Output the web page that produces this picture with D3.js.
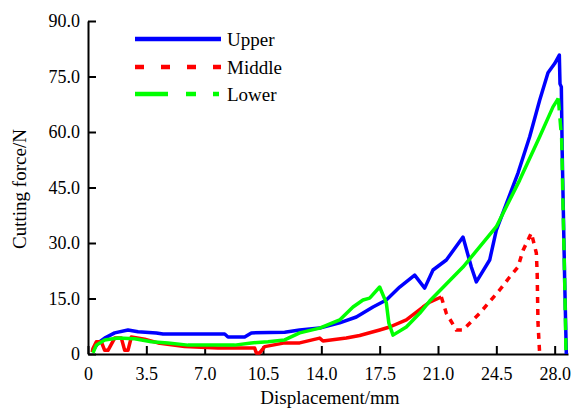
<!DOCTYPE html>
<html><head><meta charset="utf-8">
<script src="https://cdn.jsdelivr.net/npm/d3@7/dist/d3.min.js"></script>
<style>
body{margin:0;background:#fff;}
text{font-family:"Liberation Serif","Times New Roman",serif;fill:#000;}
</style></head>
<body><svg id="c" width="574" height="408"></svg>
<script>
const seriesNames = ["Upper","Middle","Lower"];
const xTicks = [0,3.5,7.0,10.5,14.0,17.5,21.0,24.5,28.0];
const yTicks = [0,15,30,45,60,75,90];

const upperX = [0.3,0.6,1.0,1.6,2.4,3.0,4.1,4.5,8.2,8.4,9.4,9.8,11.8,12.7,13.9,15.1,16.1,17.1,17.9,18.7,19.6,20.2,20.7,21.5,22.5,23.0,23.3,24.1,24.5,25.8,26.5,27.1,27.6,28.0,28.28,28.32,28.4,28.45,28.6,28.7];
const upperY = [1,3,4.3,5.7,6.5,6.0,5.7,5.4,5.4,4.6,4.6,5.7,5.9,6.5,7,8.4,10,12.7,14.6,18.1,21.3,17.8,22.7,25.4,31.6,23.5,19.5,25.4,33.5,48.9,58.7,68.6,76,78.5,80.8,73,72.2,55,20,0];

const middleX = [0.25,0.3,0.5,0.8,1.0,1.2,1.6,2.0,2.2,2.4,2.6,3.4,4.2,5.8,7.8,10.0,10.1,10.3,10.6,11.8,12.7,13.9,14.1,15.5,16.3,17.5,18.1,19.1,20.1,20.5,21.2,21.5,22.1,22.5,23.5,24.7,25.3,25.8,26.1,26.6,26.9,26.95,27.0,27.1];
const middleY = [0.5,1.5,3.3,3.3,1.0,1.0,4.3,4.3,1.0,1.0,4.6,4.0,3.0,2.0,1.6,1.6,0.3,0.3,2.0,3.0,3.0,4.3,3.5,4.3,5.0,6.5,7.3,9.2,12.7,14,15.4,11,6.5,6.5,11,17.3,20.8,23.5,28,32.7,27.3,21.9,8.4,0];

const lowerX = [0.3,0.5,1.0,1.8,2.8,3.8,4.8,6.0,8.8,9.8,10.8,11.8,12.7,13.9,15.1,15.9,16.5,16.9,17.5,17.9,18.05,18.3,19.1,19.9,20.5,22.5,24.5,25.9,27.1,27.9,28.22,28.42,28.5,28.6,28.68];
const lowerY = [0.3,2.4,3.8,4.3,4.1,3.3,3.0,2.4,2.4,3.0,3.3,3.8,5.7,7.0,9.2,12.7,14.6,15.1,18.1,13.8,8.4,5.1,7.3,11,14.3,23.5,34.4,47,58.7,66.8,69.1,58,40,20,0];

const colors = ["#0000ff","#ff0000","#00ff00"];
const legendDashes = [null,"9,17","33,18,10,17,6,18"];
// curves: solid before dashStart, dashed after it
const dashStart = [Infinity, 21.2, 28.22];
const curveDashes = [null,"6,6","12,8"];

const svg = d3.select("#c");
const x = d3.scaleLinear().domain([0,28.8]).range([88,568]);
const y = d3.scaleLinear().domain([0,90]).range([354,21]);

const fmt = d => d===0 ? "0" : d.toFixed(1);

const xAxis = svg.append("g").attr("transform","translate(0,354)")
  .call(d3.axisBottom(x).tickValues(xTicks).tickFormat(fmt).tickSizeInner(-8).tickSizeOuter(0).tickPadding(13));
const yAxis = svg.append("g").attr("transform","translate(88,0)")
  .call(d3.axisLeft(y).tickValues(yTicks).tickFormat(fmt).tickSizeInner(-8).tickSizeOuter(0).tickPadding(8));
[xAxis,yAxis].forEach(a=>{
  a.selectAll("path,line").attr("stroke","#000").attr("stroke-width",2);
  a.selectAll("text").style("font-size","18px").style("font-family","'Liberation Serif','Times New Roman',serif");
});

const data = [upperX.map((v,i)=>[v,upperY[i]]), middleX.map((v,i)=>[v,middleY[i]]), lowerX.map((v,i)=>[v,lowerY[i]])];
const line = d3.line().x(d=>x(d[0])).y(d=>y(d[1]));
data.forEach((d,i)=>{
  const solid = d.filter(p=>p[0]<=dashStart[i]);
  const dashed = d.filter(p=>p[0]>=dashStart[i]);
  svg.append("path").datum(solid).attr("d",line).attr("fill","none")
    .attr("stroke",colors[i]).attr("stroke-width",3.5).attr("stroke-linejoin","round");
  if(dashed.length>1){
    svg.append("path").datum(dashed).attr("d",line).attr("fill","none")
      .attr("stroke",colors[i]).attr("stroke-width",3.5)
      .attr("stroke-dasharray",curveDashes[i]);
  }
});

// legend
const legY = [39,67,94];
seriesNames.forEach((n,i)=>{
  svg.append("line").attr("x1",135).attr("x2",221).attr("y1",legY[i]).attr("y2",legY[i])
    .attr("stroke",colors[i]).attr("stroke-width",4.5).attr("stroke-dasharray",legendDashes[i]);
  svg.append("text").attr("x",227).attr("y",legY[i]).attr("dy","0.35em")
    .style("font-size","19px").text(n);
});

svg.append("text").attr("x",330).attr("y",404).attr("text-anchor","middle")
  .style("font-size","19px").text("Displacement/mm");
svg.append("text").attr("transform","translate(26,189) rotate(-90)").attr("text-anchor","middle")
  .style("font-size","19px").text("Cutting force/N");
</script></body></html>
